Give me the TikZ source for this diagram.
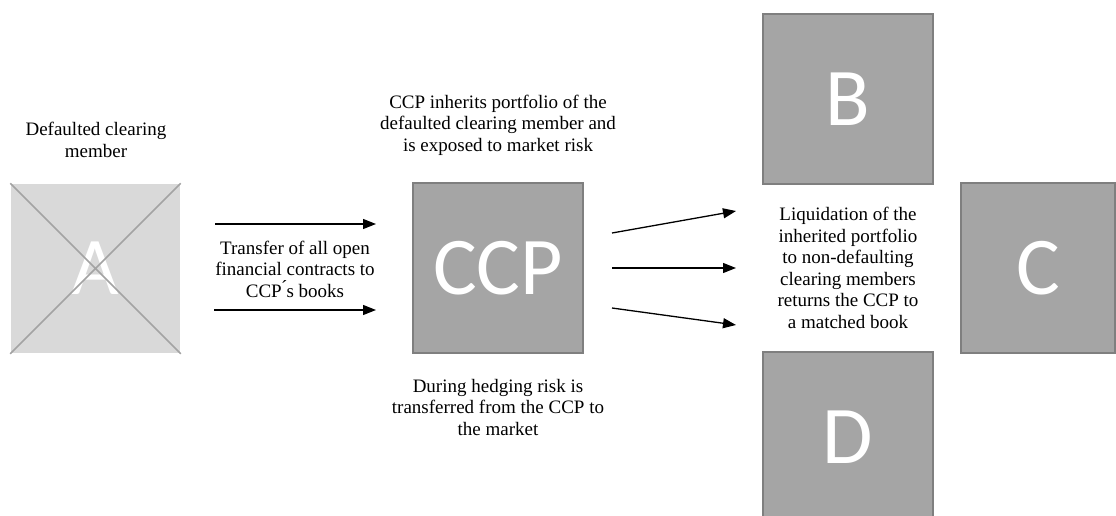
\documentclass[tikz,border=0pt]{standalone}
\usepackage{fontspec}
\setmainfont{Liberation Serif}
\newfontfamily\boxfont{Carlito}
\usetikzlibrary{arrows.meta,positioning,calc}
\definecolor{boxgray}{HTML}{A5A5A5}
\definecolor{edgegray}{HTML}{7F7F7F}
\definecolor{fadedgray}{HTML}{D9D9D9}
\definecolor{crossgray}{HTML}{A3A3A3}
\tikzset{member/.style={draw=edgegray,line width=1.5pt,fill=boxgray,minimum size=170pt,inner sep=0pt,text=white,font=\boxfont\fontsize{82}{82}\selectfont},caption/.style={align=center,font=\fontsize{19}{21.5}\selectfont},flow/.style={draw=black,line width=1.3pt,->},every picture/.style={>={Triangle[length=13pt,width=10pt]}}}
\begin{document}
\begin{tikzpicture}[x=1pt,y=-1pt]
\useasboundingbox (0,0) rectangle (1116,515);
% clearing members
\node[member,draw=none,fill=fadedgray,minimum size=169pt] (a) at (95.5,268.5) {A};
\draw[crossgray,line width=1.5pt] (a.north west)--(a.south east) (a.north east)--(a.south west);
\node[member] (ccp) at (498,268) {CCP};
\node[member] (b) at (848,99) {B};
\node[member,minimum width=154pt] (c) at (1038,268) {C};
\node[member] (d) at (848,437) {D};
% captions
\node[caption] (def) at (96,140) {Defaulted clearing\\member};
\node[caption] (trans) at (295,269) {Transfer of all open\\financial contracts to\\CCP\'{}s books};
\node[caption] (inh) at (498,125) {CCP inherits portfolio of the\\defaulted clearing member and\\is exposed to market risk};
\node[caption] (hedge) at (498,407) {During hedging risk is\\transferred from the CCP to\\the market};
\node[caption] (liq) at (848,268) {Liquidation of the\\inherited portfolio\\to non-defaulting\\clearing members\\returns the CCP to\\a matched book};
% arrows
\coordinate (t1) at (215,224);\coordinate (t1e) at (376,224);
\coordinate (t2) at (214,310);\coordinate (t2e) at (376,310);
\coordinate (l1) at (612,233);\coordinate (l1e) at (736,211);
\coordinate (l2) at (612,268);\coordinate (l2e) at (736,268);
\coordinate (l3) at (612,308);\coordinate (l3e) at (736,325);
\draw[flow] (t1)--(t1e);\draw[flow] (t2)--(t2e);
\draw[flow] (l1)--(l1e);\draw[flow] (l2)--(l2e);\draw[flow] (l3)--(l3e);
\end{tikzpicture}
\end{document}
